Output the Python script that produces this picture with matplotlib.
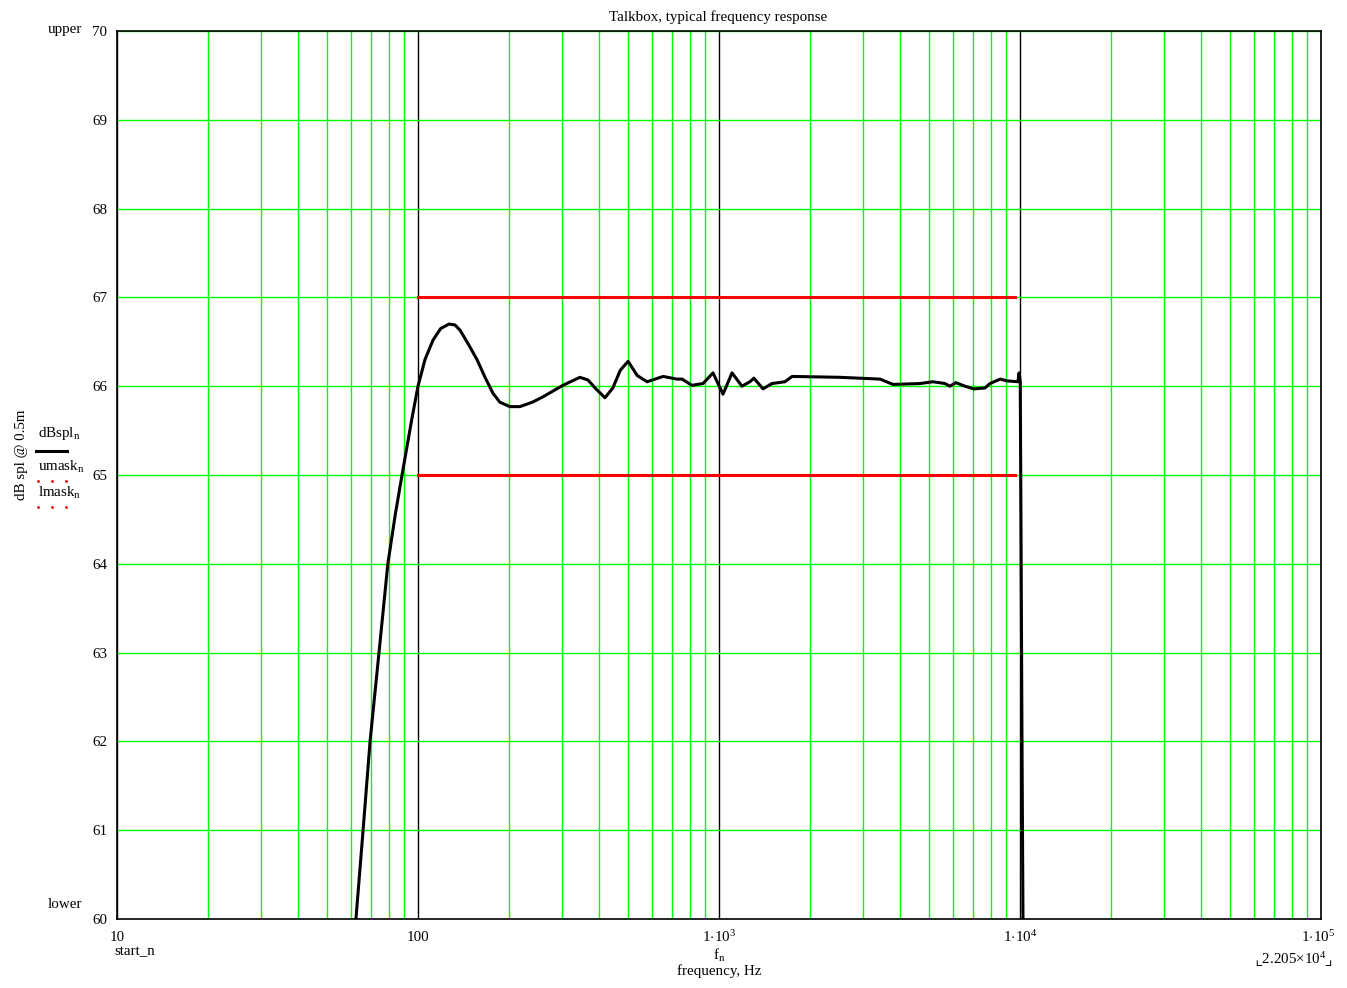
import numpy as np
import matplotlib.pyplot as plt
from matplotlib.transforms import blended_transform_factory

plt.rcParams['font.family'] = ['Liberation Serif', 'DejaVu Serif']
plt.rcParams['mathtext.fontset'] = 'custom'
plt.rcParams['mathtext.rm'] = 'Liberation Serif'
plt.rcParams['mathtext.it'] = 'Liberation Serif'

freq = [61.5, 62.2, 65.7, 69.3, 74.2, 79.4, 84.0, 88.5, 95.5, 100, 105.5, 112.2,
        119, 126.8, 132.7, 138, 146.6, 157, 167, 177.5, 187, 202, 218, 240, 260,
        303, 345, 367, 390, 418, 444, 470, 499, 535, 577, 652,
        725, 754, 813, 885, 955, 1031, 1105, 1192, 1267, 1306, 1400, 1500,
        1656, 1749, 2525, 3427, 3784, 4654, 5141, 5636, 5848, 6124, 6561,
        7030, 7650, 7950, 8590, 9060, 9840, 9930, 10020, 10080, 10150, 10250]
dbspl = [59.8, 60.0, 61.0, 62.0, 63.0, 64.0, 64.55, 65.0, 65.64, 66.0, 66.3, 66.52,
         66.65, 66.70, 66.69, 66.63, 66.48, 66.30, 66.10, 65.92, 65.82, 65.77, 65.77,
         65.82, 65.88, 66.01, 66.10, 66.07, 65.97, 65.87, 65.98, 66.18, 66.28,
         66.12, 66.05, 66.11, 66.08, 66.08, 66.01, 66.03, 66.15, 65.91, 66.15,
         66.00, 66.05, 66.09, 65.97, 66.03, 66.05, 66.11, 66.10, 66.08, 66.02,
         66.03, 66.05, 66.03, 66.00, 66.04, 66.00, 65.97, 65.98, 66.03, 66.08,
         66.06, 66.05, 66.15, 66.05, 64.3, 62.1, 59.5]

mask_f = [100, 9620]
umask = [67, 67]
lmask = [65, 65]

W, H = 1347, 988
fig = plt.figure(figsize=(W / 100, H / 100), dpi=100)
ax = fig.add_axes([117 / W, (H - 919) / H, 1204 / W, 888 / H])

ax.plot(freq, dbspl, color='black', lw=2.2, zorder=4, solid_joinstyle='round')
ax.plot(mask_f, umask, color='red', lw=2.2, zorder=3)
ax.plot(mask_f, lmask, color='red', lw=2.2, zorder=3)

ax.set_xscale('log')
ax.set_xlim(10, 1e5)
ax.set_ylim(60, 70)
ax.set_xticks([10, 100, 1e3, 1e4, 1e5])
ax.set_xticks([m * d for d in [10, 100, 1e3, 1e4] for m in range(2, 10)], minor=True)
ax.set_yticks(range(60, 71))
ax.xaxis.grid(True, which='major', color='black', lw=1)
ax.xaxis.grid(True, which='minor', color='#00ff00', lw=1)
ax.yaxis.grid(True, which='major', color='#00ff00', lw=1)
ax.set_axisbelow(True)

fs = 10.8
ax.tick_params(which='both', length=0, labelsize=fs)
ax.tick_params(axis='y', pad=7)
ax.set_xticklabels([])
for s in ax.spines.values():
    s.set_linewidth(1.2)

tr = blended_transform_factory(ax.transData, fig.transFigure)
def fy(p):
    return 1 - p / H

xlabels = ['10', '100', r'$1\!\cdot\!10^{3}$', r'$1\!\cdot\!10^{4}$', r'$1\!\cdot\!10^{5}$']
for xv, lab in zip([10, 100, 1e3, 1e4], xlabels[:4]):
    ax.text(xv, fy(937), lab, transform=tr, ha='center', va='center', fontsize=fs)
fig.text(1335 / W, fy(937), xlabels[4], ha='right', va='center', fontsize=fs)
fig.text(114 / W, fy(952), 'start_n', ha='left', va='center', fontsize=fs)
ax.text(1e3, fy(955), r'f$_\mathrm{n}$', transform=tr, ha='center', va='center', fontsize=fs)
ax.text(1e3, fy(971), 'frequency, Hz', transform=tr, ha='center', va='center', fontsize=fs)
fig.text(1333 / W, fy(960), r'$\llcorner$2.205$\times$10$^{4}$$\lrcorner$', ha='right', va='center', fontsize=fs)

fig.text(82 / W, fy(30), 'upper', ha='right', va='center', fontsize=fs)
fig.text(82 / W, fy(904), 'lower', ha='right', va='center', fontsize=fs)
fig.text(718 / W, fy(17), 'Talkbox, typical frequency response', ha='center', va='center', fontsize=fs)
fig.text(22 / W, fy(455), 'dB spl @ 0.5m', rotation=90, ha='center', va='center', fontsize=fs)

# legend block
fig.text(38 / W, fy(434), r'dBspl$_\mathrm{n}$', ha='left', va='center', fontsize=fs)
fig.add_artist(plt.Line2D([36 / W, 67 / W], [fy(451), fy(451)], color='black', lw=2.2))
fig.text(38 / W, fy(467), r'umask$_\mathrm{n}$', ha='left', va='center', fontsize=fs)
fig.add_artist(plt.Line2D([38 / W, 52 / W, 66 / W], [fy(481)] * 3, color='red', ls='none',
                          marker='.', ms=2))
fig.text(38 / W, fy(493), r'lmask$_\mathrm{n}$', ha='left', va='center', fontsize=fs)
fig.add_artist(plt.Line2D([38 / W, 52 / W, 66 / W], [fy(507)] * 3, color='red', ls='none',
                          marker='.', ms=2))

fig.savefig('out.png', dpi=100)
